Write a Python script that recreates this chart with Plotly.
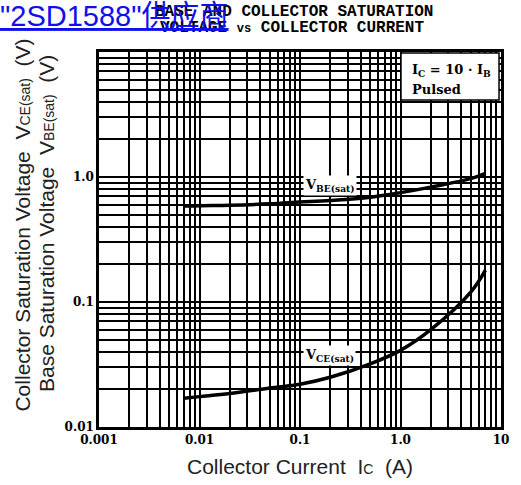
import plotly.graph_objects as go

# Data
ic = [0.007, 0.01, 0.02, 0.05, 0.1, 0.2, 0.5, 1.0, 2.0, 5.0, 7.0]
vbe_sat = [0.585, 0.59, 0.595, 0.61, 0.63, 0.65, 0.69, 0.75, 0.83, 0.97, 1.07]
vce_sat = [0.017, 0.0175, 0.0185, 0.0205, 0.022, 0.025, 0.032, 0.041, 0.06, 0.12, 0.18]

x_tickvals = [0.001, 0.01, 0.1, 1, 10]
x_ticktext = ["0.001", "0.01", "0.1", "1.0", "10"]
y_tickvals = [0.01, 0.1, 1]
y_ticktext = ["0.01", "0.1", "1.0"]

W, H = 521, 485
L, R, T, B = 99, 12, 52, 58
PW, PH = W - L - R, H - T - B


def px(xp):
    return (xp - L) / PW


def py(yp):
    return (H - B - yp) / PH


fig = go.Figure()
for ys in (vbe_sat, vce_sat):
    fig.add_trace(go.Scatter(x=ic, y=ys, mode="lines",
                             line=dict(color="black", width=3.5, shape="spline"),
                             showlegend=False, hoverinfo="skip"))

tickfont = dict(family="DejaVu Serif", size=12, color="black", weight="bold")
grid = dict(showgrid=True, gridcolor="black", gridwidth=2,
            showline=True, linecolor="black", linewidth=2.5, mirror=True,
            ticks="", zeroline=False,
            minor=dict(dtick="D1", showgrid=True, gridcolor="black", gridwidth=1.5, ticks=""))

fig.update_xaxes(type="log", range=[-3, 1], tickvals=x_tickvals, ticktext=x_ticktext,
                 tickfont=tickfont, **grid)
fig.update_yaxes(type="log", range=[-2, 1], tickvals=y_tickvals, ticktext=y_ticktext,
                 tickfont=tickfont, **grid)

ann = []
# Title
tfont = dict(family="Liberation Mono", size=16, color="black", weight="bold")
ann.append(dict(text="BASE AND COLLECTOR SATURATION", x=px(298), y=py(12), xref="paper", yref="paper",
                showarrow=False, font=tfont, xanchor="center", yanchor="middle"))
ann.append(dict(text="VOLTAGE <span style='font-size:12px'>vs</span> COLLECTOR CURRENT", x=px(296), y=py(28),
                xref="paper", yref="paper", showarrow=False, font=tfont, xanchor="center", yanchor="middle"))
# Blue overlay link text
ann.append(dict(text='<u>"2SD1588"供应商</u>', x=px(234), y=py(16), xref="paper", yref="paper",
                showarrow=False, xanchor="right", yanchor="middle",
                font=dict(family="Liberation Sans, Noto Sans CJK SC", size=29, color="#1010ee")))
# Axis titles
afont = dict(family="Liberation Sans, Arial", size=21, color="#222222")
ann.append(dict(text="Collector Saturation Voltage  V<span style='font-size:14px'>CE(sat)</span>  (V)",
                x=px(20), y=py(225), xref="paper", yref="paper", textangle=-90,
                showarrow=False, font=afont, xanchor="center", yanchor="middle"))
ann.append(dict(text="Base Saturation Voltage  V<span style='font-size:14px'>BE(sat)</span>  (V)",
                x=px(45), y=py(224), xref="paper", yref="paper", textangle=-90,
                showarrow=False, font=afont, xanchor="center", yanchor="middle"))
ann.append(dict(text="Collector Current  I<span style='font-size:14px'>C</span>  (A)",
                x=px(304), y=py(466), xref="paper", yref="paper",
                showarrow=False, font=afont, xanchor="center", yanchor="middle"))
# Curve labels
lfont = dict(family="DejaVu Serif", size=13, color="black", weight="bold")
ann.append(dict(text="V<sub>BE(sat)</sub>", x=px(335), y=py(185), xref="paper", yref="paper",
                showarrow=False, font=lfont, bgcolor="white", xanchor="center", yanchor="middle"))
ann.append(dict(text="V<sub>CE(sat)</sub>", x=px(334), y=py(355), xref="paper", yref="paper",
                showarrow=False, font=lfont, bgcolor="white", xanchor="center", yanchor="middle"))
# Condition box text
ann.append(dict(text="I<sub>C</sub> = 10 · I<sub>B</sub>", x=px(416), y=py(70), xref="paper", yref="paper",
                showarrow=False, font=lfont, xanchor="left", yanchor="middle"))
ann.append(dict(text="Pulsed", x=px(416), y=py(89), xref="paper", yref="paper",
                showarrow=False, font=lfont, xanchor="left", yanchor="middle"))

fig.add_shape(type="rect", xref="paper", yref="paper", x0=px(407), x1=px(507), y0=py(100), y1=py(53),
              line=dict(color="black", width=1.5), fillcolor="white", layer="above")

fig.update_layout(width=W, height=H, margin=dict(l=L, r=R, t=T, b=B),
                  plot_bgcolor="white", paper_bgcolor="white", annotations=ann)

fig.write_html("out.html", config={"displayModeBar": False},
               post_script="document.body.style.margin='0';document.body.style.overflow='hidden';")
